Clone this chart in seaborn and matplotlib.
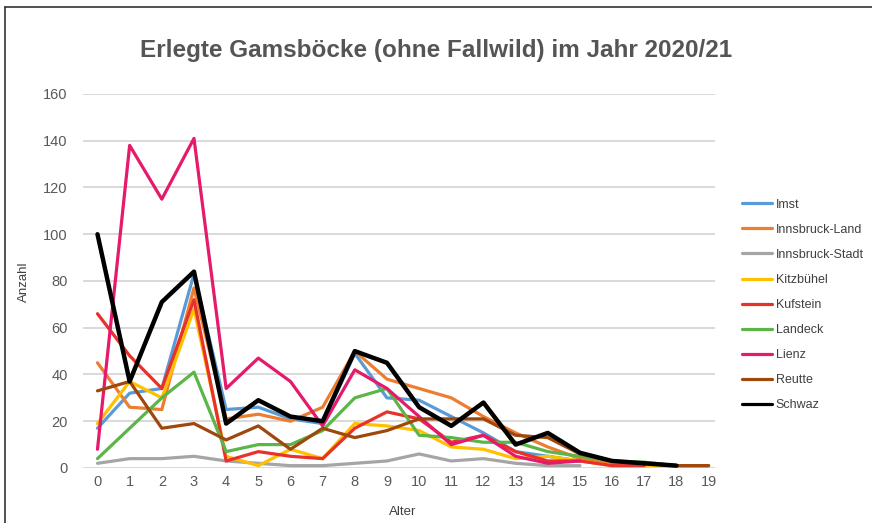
import numpy as np
import pandas as pd
import matplotlib
matplotlib.use("Agg")
import matplotlib.pyplot as plt
import seaborn as sns

# Alter 0..19, Anzahl je Bezirk
alter = list(range(20))
bezirke = ["Imst", "Innsbruck-Land", "Innsbruck-Stadt", "Kitzbühel", "Kufstein",
           "Landeck", "Lienz", "Reutte", "Schwaz"]

imst = [17, 32, 34, 83, 25, 26, 21, 19, 49, 30, 29, 22, 15, 7, 5, 3, 2, 1.5, 1, 1]
ibk_land = [45, 26, 25, 77, 21, 23, 20, 26, 50, 38, 34, 30, 22, 15, 9, 4, 2, 1.5, 1, 1]
ibk_stadt = [2, 4, 4, 5, 3, 2, 1, 1, 2, 3, 6, 3, 4, 2, 1, 1, np.nan, np.nan, np.nan, np.nan]
kitzbuehel = [19, 37, 30, 68, 5, 1, 8, 4, 19, 18, 16, 9, 8, 4, 5, 3, 1, 1, 1, np.nan]
kufstein = [66, 48, 34, 72, 3, 7, 5, 4, 17, 24, 21, 11, 14, 7, 3, 3, 1, 1, np.nan, np.nan]
landeck = [4, 17, 30, 41, 7, 10, 10, 16, 30, 34, 14, 13, 11, 11, 7, 5, 3, 2.5, 1, np.nan]
lienz = [8, 138, 115, 141, 34, 47, 37, 18, 42, 34, 22, 10, 14, 5, 2, 3, np.nan, np.nan, np.nan, np.nan]
reutte = [33, 37, 17, 19, 12, 18, 8, 17, 13, 16, 21, 21, 21, 14, 13, 6, 3, 2, 1, 1]
schwaz = [100, 37, 71, 84, 19, 29, 22, 20, 50, 45, 26, 18, 28, 10, 15, 6.5, 3, 2, 1, np.nan]

farben = ["#5B9BD5", "#ED7D31", "#A5A5A5", "#FFC000", "#E8312A",
          "#5BB548", "#E6196B", "#9E480E", "#000000"]

werte = [imst, ibk_land, ibk_stadt, kitzbuehel, kufstein, landeck, lienz, reutte, schwaz]
df = pd.concat([pd.DataFrame({"Alter": alter, "Anzahl": w, "Bezirk": b})
                for b, w in zip(bezirke, werte)], ignore_index=True)

sns.set_style("white")
plt.rcParams['font.family'] = ['Liberation Sans', 'DejaVu Sans']

fig = plt.figure(figsize=(8.72, 5.23), dpi=100)
ax = fig.add_axes([0.0952, 0.1052, 0.7248, 0.7151])

sns.lineplot(data=df, x="Alter", y="Anzahl", hue="Bezirk", hue_order=bezirke,
             palette=dict(zip(bezirke, farben)), linewidth=2.3, ax=ax)
ax.lines[len(bezirke) - 1].set_linewidth(3.2)

ax.set_xlim(-0.45, 19.2)
ax.set_ylim(0, 160)
ax.set_xticks(alter)
ax.set_yticks(range(0, 161, 20))
ax.grid(axis="y", color="#d9d9d9", linewidth=1.4)
ax.set_axisbelow(True)
for s in ax.spines.values():
    s.set_visible(False)
ax.tick_params(axis="both", length=0, labelsize=10.5, labelcolor="#595959")
ax.tick_params(axis="y", pad=11)
ax.tick_params(axis="x", pad=5)

ax.set_xlabel("Alter", fontsize=9.5, color="#404040")
ax.set_ylabel("Anzahl", fontsize=9.5, color="#404040")
ax.xaxis.set_label_coords((403 - 83) / 632, (468 - 506) / 374)
ax.yaxis.set_label_coords((30 - 83) / 632, (468 - 282) / 374)

fig.text(0.5, 1 - 50 / 523, "Erlegte Gamsböcke (ohne Fallwild) im Jahr 2020/21",
         ha="center", va="center", fontsize=17.5, fontweight="bold", color="#555555")

h, lab = ax.get_legend_handles_labels()
ax.legend(h, lab, loc="center left", bbox_to_anchor=(0.838, 1 - 305 / 523),
          bbox_transform=fig.transFigure, frameon=False, fontsize=9,
          labelspacing=1.05, handlelength=2.4, handletextpad=0.3, labelcolor="#404040")

# Rahmen
fig.add_artist(plt.Line2D([4.5 / 872, 1], [1 - 7 / 523, 1 - 7 / 523],
                          transform=fig.transFigure, color="#333333", linewidth=1.2))
fig.add_artist(plt.Line2D([4.5 / 872, 4.5 / 872], [0, 1 - 7 / 523],
                          transform=fig.transFigure, color="#333333", linewidth=1.2))

fig.savefig("out.png", dpi=100)
